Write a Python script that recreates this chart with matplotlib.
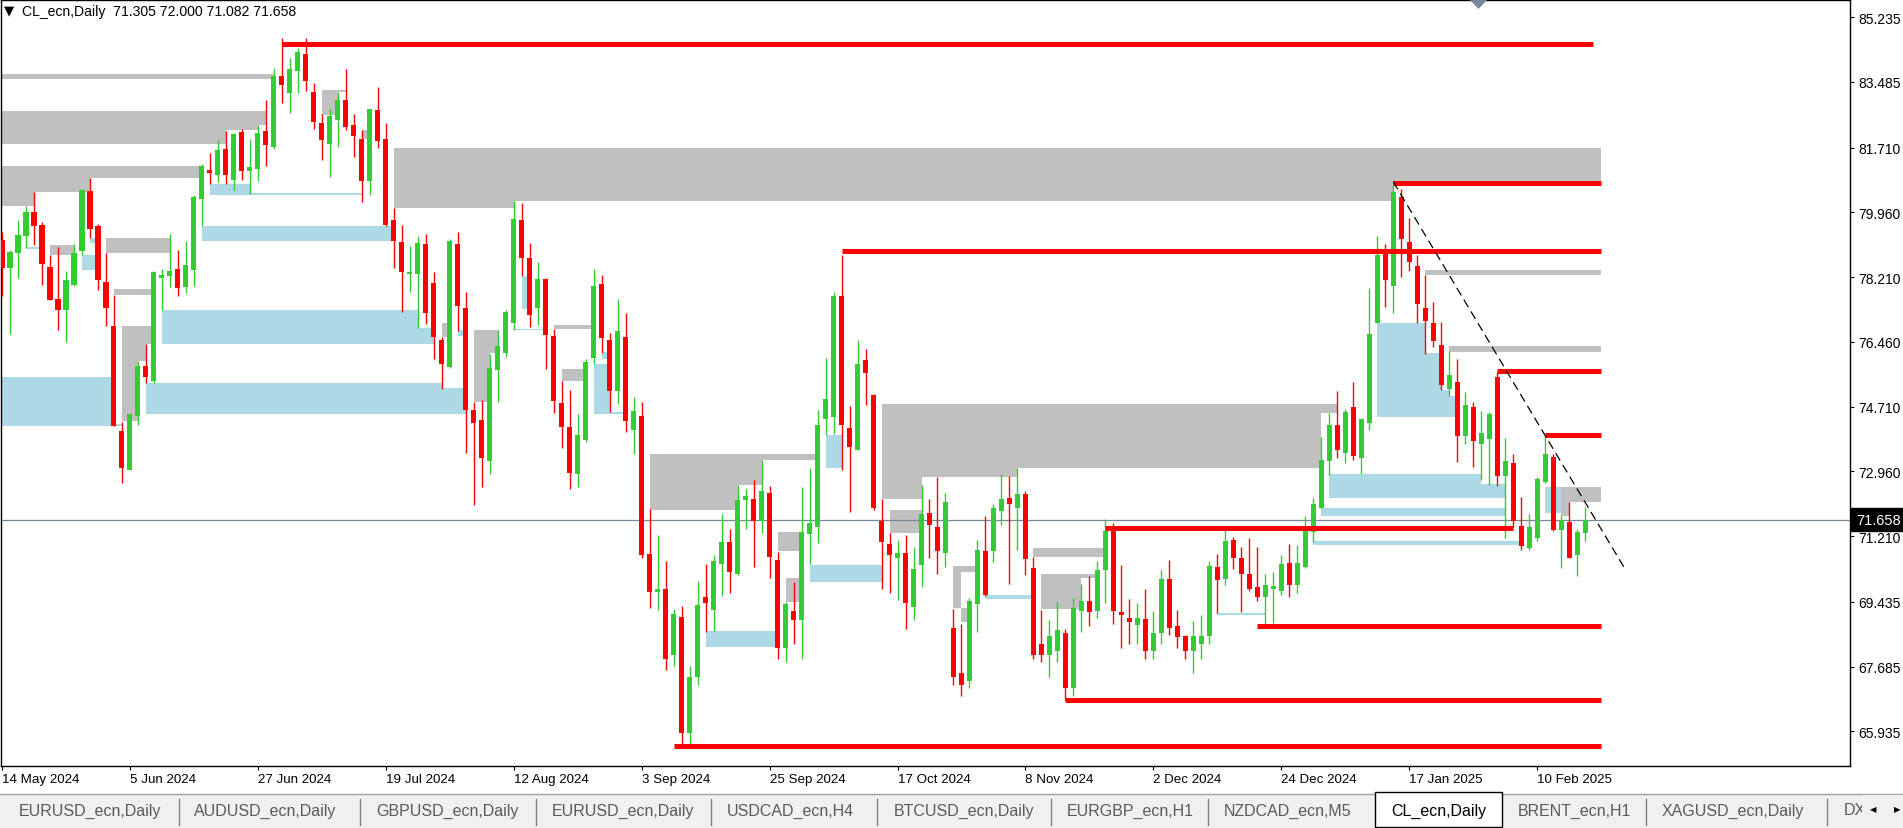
import matplotlib
matplotlib.use("Agg")
import matplotlib.pyplot as plt
from matplotlib.patches import Rectangle, Polygon
from matplotlib.lines import Line2D

plt.rcParams['font.family'] = ['Liberation Sans', 'DejaVu Sans']

# ---------------- data ----------------
symbol_title = "CL_ecn,Daily  71.305 72.000 71.082 71.658"
last_price = 71.658

opens = [79.21, 78.46, 78.85, 79.33, 79.98, 79.62, 78.49, 77.63, 77.32, 78.00,
         78.93, 80.54, 79.58, 78.09, 76.90, 74.06, 73.01, 74.47, 75.81, 75.41,
         78.19, 78.23, 78.44, 77.95, 78.41, 80.31, 81.11, 80.96, 81.67, 80.84,
         82.13, 81.07, 81.12, 82.17, 81.72, 83.64, 83.20, 83.77, 84.24, 83.21,
         82.38, 81.82, 82.47, 83.00, 82.33, 81.95, 80.80, 82.73, 81.95, 79.76,
         79.17, 78.29, 78.29, 79.11, 78.05, 76.51, 75.79, 79.11, 77.38, 74.61,
         74.36, 73.24, 75.71, 76.16, 76.98, 79.76, 78.74, 77.37, 78.16, 76.63,
         74.82, 74.16, 72.90, 73.82, 76.03, 78.03, 76.50, 75.13, 76.59, 74.08,
         74.45, 70.73, 69.69, 69.78, 68.00, 69.04, 65.90, 67.40, 69.57, 69.22,
         70.47, 71.06, 70.19, 72.18, 72.22, 71.62, 72.38, 70.57, 68.20, 69.20,
         68.95, 71.28, 71.46, 74.37, 74.42, 77.70, 74.14, 73.54, 75.98, 75.02,
         71.62, 71.00, 70.61, 70.76, 69.31, 70.43, 71.85, 71.46, 70.75, 68.74,
         67.50, 67.30, 69.38, 70.82, 70.82, 71.88, 72.25, 71.98, 72.36, 70.34,
         68.30, 68.00, 68.10, 68.60, 67.10, 69.20, 69.46, 69.20, 70.29, 71.41,
         69.16, 69.00, 68.82, 68.98, 68.10, 68.60, 70.06, 68.79, 68.50, 68.10,
         68.30, 68.50, 70.38, 70.04, 71.11, 70.63, 70.20, 69.85, 69.58, 69.77,
         69.73, 70.48, 69.88, 70.37, 71.33, 71.96, 73.25, 74.22, 73.46, 74.70,
         73.33, 74.26, 76.96, 78.85, 77.98, 80.38, 79.17, 78.51, 77.38, 76.97,
         76.39, 75.20, 75.38, 73.93, 74.71, 73.70, 73.83, 75.52, 72.83, 73.19,
         71.48, 70.89, 71.17, 72.67, 73.35, 71.38, 71.60, 70.69, 71.305]
highs = [79.42, 78.94, 79.76, 80.12, 80.52, 79.71, 78.80, 79.03, 78.38, 79.10,
         80.60, 80.90, 79.66, 78.87, 77.74, 74.29, 74.51, 75.95, 76.40, 78.39,
         78.44, 79.38, 78.95, 79.20, 80.44, 81.27, 81.57, 81.92, 82.17, 82.11,
         82.22, 81.95, 82.33, 83.00, 83.87, 84.66, 84.14, 84.41, 84.66, 83.46,
         82.63, 82.75, 83.21, 83.84, 82.63, 82.20, 82.75, 83.35, 82.38, 80.08,
         79.62, 79.06, 79.31, 79.38, 78.35, 76.59, 79.25, 79.42, 77.80, 74.85,
         74.89, 76.14, 76.78, 77.33, 80.28, 80.22, 79.13, 78.62, 78.19, 76.82,
         75.41, 75.17, 74.51, 76.00, 78.44, 78.28, 76.70, 77.63, 77.24, 74.98,
         74.83, 71.94, 71.25, 70.54, 69.25, 69.32, 67.70, 69.99, 70.47, 70.71,
         71.80, 71.41, 72.60, 72.48, 72.74, 73.28, 72.58, 70.79, 69.43, 69.97,
         72.55, 73.06, 74.61, 76.03, 77.80, 78.81, 74.74, 76.50, 76.27, 75.04,
         72.21, 71.30, 71.11, 71.25, 70.93, 72.60, 72.21, 72.80, 72.39, 69.25,
         68.84, 69.54, 71.11, 71.75, 72.07, 72.90, 72.83, 73.05, 72.44, 70.66,
         69.22, 68.95, 69.45, 68.71, 69.54, 69.91, 70.13, 70.55, 71.67, 71.57,
         70.43, 69.51, 69.41, 69.78, 69.20, 70.31, 70.58, 69.22, 68.55, 68.93,
         69.08, 70.53, 70.73, 71.44, 71.19, 70.93, 71.16, 70.93, 70.20, 70.25,
         70.69, 71.00, 70.98, 71.76, 72.23, 73.90, 74.54, 75.13, 74.65, 75.38,
         74.41, 77.93, 79.31, 79.10, 80.72, 80.60, 79.82, 78.80, 78.27, 77.53,
         77.01, 76.22, 76.00, 75.12, 74.85, 74.58, 74.56, 75.65, 73.87, 73.44,
         72.26, 71.81, 72.82, 73.92, 73.44, 71.78, 72.13, 71.41, 72.000]
lows = [77.71, 76.68, 78.19, 78.99, 79.07, 78.01, 77.60, 76.77, 76.47, 77.98,
        78.80, 79.26, 77.87, 76.88, 74.19, 72.64, 72.99, 74.21, 75.34, 75.34,
        77.32, 77.95, 77.71, 77.79, 77.98, 79.58, 80.72, 80.78, 80.72, 80.56,
        80.84, 80.47, 80.80, 81.22, 81.67, 82.93, 82.65, 83.20, 83.25, 82.22,
        81.37, 80.92, 81.72, 82.18, 81.47, 80.24, 80.44, 81.69, 79.60, 78.46,
        77.28, 77.80, 76.84, 76.94, 76.00, 75.20, 75.75, 76.75, 73.46, 72.05,
        72.53, 72.88, 74.85, 76.06, 76.79, 78.25, 76.86, 76.91, 75.72, 74.53,
        73.59, 72.48, 72.53, 73.76, 75.86, 76.16, 74.56, 74.77, 74.02, 73.42,
        70.61, 69.27, 69.22, 67.60, 67.70, 65.55, 65.60, 67.20, 68.63, 68.65,
        69.59, 69.68, 70.17, 71.41, 70.39, 71.30, 70.07, 67.90, 67.80, 68.30,
        67.90, 70.45, 71.03, 73.94, 73.97, 73.01, 71.86, 73.54, 74.75, 71.91,
        69.77, 69.67, 69.48, 68.71, 68.95, 69.83, 70.61, 70.20, 70.39, 67.20,
        66.90, 67.10, 68.61, 69.59, 70.50, 71.51, 69.93, 70.85, 70.16, 67.90,
        67.80, 67.40, 67.80, 66.78, 66.90, 68.63, 68.79, 69.00, 69.40, 68.84,
        68.20, 68.30, 68.30, 67.90, 67.90, 68.30, 68.54, 68.20, 67.90, 67.50,
        67.90, 68.30, 69.13, 69.88, 70.32, 69.16, 69.73, 69.45, 68.77, 68.87,
        69.62, 69.57, 69.67, 70.34, 71.06, 71.96, 72.87, 73.31, 73.20, 73.26,
        72.90, 74.08, 76.96, 77.41, 77.23, 78.22, 78.38, 76.96, 76.14, 76.32,
        75.15, 74.99, 73.22, 73.70, 73.08, 72.74, 72.60, 72.58, 71.17, 71.46,
        70.85, 70.85, 71.09, 72.64, 71.36, 70.36, 70.61, 70.13, 71.082]
closes = [78.46, 78.89, 79.35, 79.98, 79.58, 78.56, 77.60, 77.32, 78.14, 78.87,
          80.57, 79.50, 78.12, 77.39, 74.19, 73.06, 74.51, 75.81, 75.50, 78.35,
          78.28, 78.38, 77.93, 78.55, 80.38, 81.22, 81.03, 81.65, 80.96, 82.08,
          81.07, 81.20, 82.10, 81.77, 83.64, 83.40, 83.84, 84.30, 83.50, 82.39,
          81.92, 82.57, 83.00, 82.28, 82.02, 80.82, 82.75, 81.90, 79.62, 79.18,
          78.36, 78.35, 79.13, 77.23, 76.58, 75.87, 79.20, 77.44, 74.61, 74.28,
          73.31, 75.76, 76.34, 77.27, 79.78, 78.72, 77.20, 78.16, 76.66, 74.87,
          74.15, 72.93, 73.95, 75.93, 77.98, 76.56, 75.13, 76.75, 74.31, 74.59,
          70.71, 69.70, 69.79, 67.90, 69.11, 65.90, 67.40, 69.36, 69.40, 70.54,
          71.06, 70.23, 72.20, 72.30, 71.62, 72.43, 70.66, 68.20, 69.38, 68.95,
          71.33, 71.57, 74.22, 74.92, 77.70, 74.22, 73.63, 75.86, 75.63, 71.96,
          71.06, 70.71, 70.76, 69.40, 70.32, 71.81, 71.51, 70.80, 72.13, 67.40,
          67.20, 69.45, 70.84, 69.63, 71.97, 72.22, 72.07, 72.36, 70.59, 68.00,
          68.00, 68.50, 68.68, 67.10, 69.27, 69.46, 69.16, 70.31, 71.35, 69.20,
          69.09, 68.88, 69.00, 68.10, 68.60, 70.06, 68.74, 68.49, 68.10, 68.50,
          68.52, 70.41, 70.02, 71.09, 70.61, 70.20, 69.78, 69.56, 69.90, 69.87,
          70.47, 69.90, 70.48, 71.39, 72.07, 73.28, 74.22, 73.54, 74.56, 73.38,
          74.38, 76.67, 78.81, 78.12, 80.51, 79.23, 78.62, 77.48, 77.02, 76.48,
          75.29, 75.57, 73.93, 74.76, 73.78, 73.99, 74.51, 72.85, 73.25, 71.62,
          70.95, 71.46, 72.76, 73.44, 71.39, 71.65, 70.63, 71.33, 71.658]

date_ticks = [0, 16, 32, 48, 64, 80, 96, 112, 128, 144, 160, 176, 192]
date_labels = ["14 May 2024", "5 Jun 2024", "27 Jun 2024", "19 Jul 2024",
               "12 Aug 2024", "3 Sep 2024", "25 Sep 2024", "17 Oct 2024",
               "8 Nov 2024", "2 Dec 2024", "24 Dec 2024", "17 Jan 2025",
               "10 Feb 2025"]
price_ticks = [85.235, 83.485, 81.710, 79.960, 78.210, 76.460, 74.710,
               72.960, 71.210, 69.435, 67.685, 65.935]

# zones: (start bar, end bar, low price, high price)
grey_zones = [
    (-1, 34, 83.57, 83.70),
    (-1, 28, 81.81, 82.70), (28, 32, 82.20, 82.70), (32, 33, 82.33, 82.70),
    (-1, 25, 80.90, 81.22), (-1, 11, 80.51, 81.22), (-1, 4, 80.14, 81.22),
    (6, 9, 78.80, 79.08),
    (13, 21, 78.86, 79.27),
    (14, 19, 77.74, 77.89),
    (15, 19, 76.40, 76.90), (15, 18, 75.95, 76.90), (15, 17, 74.31, 76.90),
    (40, 43, 83.22, 83.27), (40, 42, 82.59, 83.27),
    (45, 46, 81.95, 82.19),
    (49, 64, 80.08, 81.71), (64, 174, 80.27, 81.71), (174, 200, 80.79, 81.71),
    (55, 56, 76.59, 76.98),
    (59, 61, 74.85, 76.79), (61, 62, 76.16, 76.79),
    (69, 74, 76.82, 76.93),
    (70, 73, 75.41, 75.73),
    (81, 92, 71.92, 73.44), (92, 95, 72.60, 73.44), (95, 102, 73.28, 73.44),
    (97, 100, 70.80, 71.33), (98, 100, 69.43, 70.08),
    (110, 115, 72.21, 74.77), (115, 127, 72.80, 74.77), (127, 165, 73.06, 74.77),
    (165, 167, 74.53, 74.77),
    (111, 115, 71.30, 71.92),
    (119, 121.7, 70.23, 70.41), (119, 120, 69.27, 70.23), (120, 120.7, 68.90, 69.27),
    (129, 138, 70.66, 70.88),
    (130, 137, 70.07, 70.18), (130, 135, 69.23, 70.18),
    (178, 200, 78.28, 78.41),
    (181, 200, 76.20, 76.35),
    (195, 200, 72.13, 72.54), (195, 196, 71.75, 72.54),
]
blue_zones = [
    (3, 5, 78.96, 79.03),
    (10, 12, 78.40, 78.81), (11, 12, 79.12, 79.26),
    (-1, 14, 74.19, 75.52), (14, 15, 74.19, 74.24),
    (18, 55, 74.51, 75.35), (55, 58, 74.51, 75.22),
    (20, 52, 76.40, 77.33), (52, 54, 76.40, 76.84),
    (25, 49, 79.20, 79.59),
    (26, 31, 80.44, 80.72), (31, 45, 80.44, 80.49),
    (65, 66, 77.34, 78.25),
    (64, 68, 76.78, 76.82),
    (57, 58, 76.61, 76.78),
    (74, 76, 74.51, 75.86), (75, 76, 76.00, 76.18), (76, 78, 74.51, 74.57),
    (103, 105, 73.06, 73.95),
    (101, 110, 69.97, 70.44),
    (88, 97, 68.22, 68.64),
    (123, 129, 69.52, 69.63),
    (152, 158, 69.09, 69.14),
    (172, 178, 74.42, 76.98), (178, 180, 74.42, 76.16), (180, 181, 74.42, 75.17),
    (181, 182, 74.42, 74.99),
    (166, 185, 72.23, 72.90), (185, 188, 72.23, 72.63),
    (165, 188, 71.76, 71.97),
    (164, 190, 70.98, 71.09),
    (193, 195, 71.83, 72.53),
]
# red levels: (start bar, end bar, price)
red_levels = [
    (35, 199, 84.51), (105, 200, 78.92), (174, 200, 80.75), (187, 200, 75.68),
    (193, 200, 73.95), (138, 189, 71.44), (157, 200, 68.77), (133, 200, 66.78),
    (84, 200, 65.54),
]
trend_bars = [174, 203]
trend_prices = [80.79, 70.32]

tab_names = ["EURUSD_ecn,Daily", "AUDUSD_ecn,Daily", "GBPUSD_ecn,Daily",
             "EURUSD_ecn,Daily", "USDCAD_ecn,H4", "BTCUSD_ecn,Daily",
             "EURGBP_ecn,H1", "NZDCAD_ecn,M5", "CL_ecn,Daily", "BRENT_ecn,H1",
             "XAGUSD_ecn,Daily", "DX"]
active_tab = "CL_ecn,Daily"

# ---------------- figure ----------------
W, H = 1903, 829
fig = plt.figure(figsize=(W / 100, H / 100), dpi=100)
fig.patch.set_facecolor('white')
ax = fig.add_axes([1 / W, 62 / H, 1849 / W, 766 / H])
ax.set_facecolor('white')

GREY = '#C0C0C0'
BLUE = '#ADD8E6'
UP = '#32CD32'
DOWN = '#FF0000'

for x0, x1, lo, hi in grey_zones:
    ax.bar(x0, hi - lo, width=x1 - x0, bottom=lo, align='edge', color=GREY,
           linewidth=0, zorder=1)
for x0, x1, lo, hi in blue_zones:
    ax.bar(x0, hi - lo, width=x1 - x0, bottom=lo, align='edge', color=BLUE,
           linewidth=0, zorder=1.2)

ax.axhline(last_price, color='#778899', linewidth=0.9, zorder=2)

idx = list(range(len(opens)))
cols = [UP if c >= o else DOWN for o, c in zip(opens, closes)]
ax.vlines(idx, lows, highs, colors=cols, linewidth=1.0, zorder=4)
bottoms = [min(o, c) for o, c in zip(opens, closes)]
heights = [max(abs(c - o), 0.05) for o, c in zip(opens, closes)]
ax.bar(idx, heights, bottom=bottoms, width=0.64, color=cols, linewidth=0, zorder=5)

for s, e, p in red_levels:
    ax.hlines(p, s, e, colors='#FF0000', linewidth=3.6, zorder=6)

ax.plot(trend_bars, trend_prices, color='black', linewidth=0.9,
        dashes=(7, 4), zorder=7)

ax.set_xlim(-0.125, 231.125)
ax.set_ylim(65.00, 85.70)

for sp in ax.spines.values():
    sp.set_linewidth(1.0)
    sp.set_color('black')

ax.yaxis.tick_right()
ax.set_yticks(price_ticks)
ax.set_yticklabels([f"{p:.3f}" for p in price_ticks])
ax.tick_params(axis='y', direction='out', length=3, width=0.8, pad=3,
               labelsize=10, colors='black')
ax.set_xticks(date_ticks)
ax.set_xticklabels(date_labels, ha='left')
ax.tick_params(axis='x', direction='out', length=3, width=0.8, pad=2,
               labelsize=9.6, colors='black')

ax.annotate(f"{last_price:.3f}", xy=(1, last_price),
            xycoords=('axes fraction', 'data'), xytext=(6, 0),
            textcoords='offset pixels', va='center', ha='left', color='white',
            fontsize=10.5,
            bbox=dict(boxstyle='square,pad=0.32', fc='black', ec='black'),
            zorder=10, annotation_clip=False)

# title
fig.text(4 / W, 1 - 11 / H, "\u25BC", fontsize=9.5, va='center', ha='left',
         family='DejaVu Sans', color='black')
fig.text(22 / W, 1 - 12 / H, symbol_title, fontsize=10.1, va='center', ha='left',
         color='black')
# small marker at top
fig.patches.append(Polygon([(1470 / W, 1 - 1 / H), (1487 / W, 1 - 1 / H),
                            (1478.5 / W, 1 - 10 / H)], closed=True,
                           transform=fig.transFigure, fc='#778899', ec='none'))

# tab bar
tab_top = 34
fig.patches.append(Rectangle((0, 0), 1, tab_top / H, transform=fig.transFigure,
                             fc='#F0F0F0', ec='none', zorder=0))
fig.lines.append(Line2D([0, 1], [tab_top / H, tab_top / H], transform=fig.transFigure,
                        color='#A0A0A0', linewidth=1))
tab_left = [19, 194, 376, 552, 727, 894, 1067, 1224, 1391, 1518, 1662, 1844]
separators = [179, 360, 536, 711, 877, 1051, 1208, 1646, 1827]
for sx in separators:
    fig.lines.append(Line2D([sx / W, sx / W], [3 / H, 29 / H],
                            transform=fig.transFigure, color='#808080', linewidth=1))
fig.patches.append(Rectangle((1375 / W, 1 / H), 127 / W, 35 / H,
                             transform=fig.transFigure, fc='white', ec='black',
                             linewidth=1, zorder=2))
for name, lx in zip(tab_names, tab_left):
    fig.text(lx / W, 18 / H, name, fontsize=11.5, va='center', ha='left',
             color='black' if name == active_tab else '#5A5A5A', zorder=3)
fig.patches.append(Rectangle((1862 / W, 1 / H), 41 / W, 32 / H,
                             transform=fig.transFigure, fc='#F0F0F0', ec='none',
                             zorder=4))
fig.text(1873 / W, 19 / H, "\u25C0", fontsize=6, va='center', ha='center',
         family='DejaVu Sans', color='black', zorder=5)
fig.text(1897 / W, 19 / H, "\u25B6", fontsize=6, va='center', ha='center',
         family='DejaVu Sans', color='black', zorder=5)

fig.savefig("out.png", dpi=100, facecolor='white')
